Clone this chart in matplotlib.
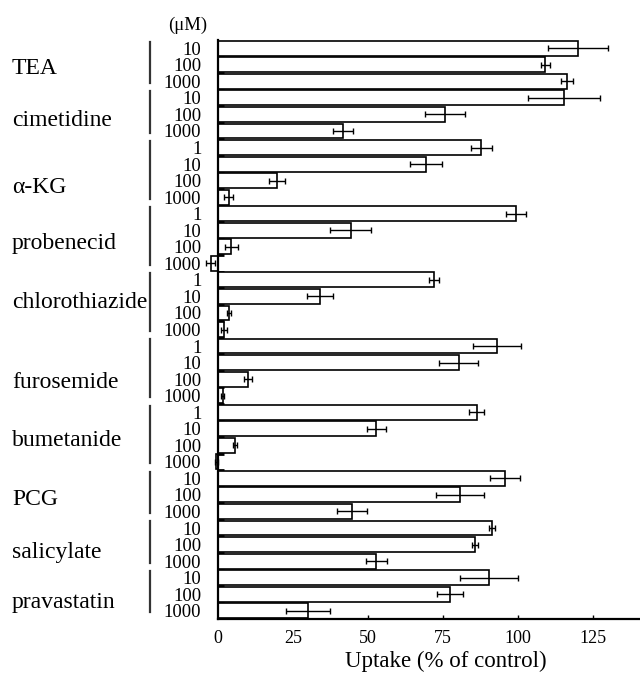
import matplotlib
matplotlib.use("Agg")
import matplotlib.pyplot as plt
import matplotlib.transforms as mtransforms
import numpy as np

plt.rcParams['font.family'] = ['Liberation Serif', 'DejaVu Serif']

drugs = ["TEA", "cimetidine", "α-KG", "probenecid", "chlorothiazide",
         "furosemide", "bumetanide", "PCG", "salicylate", "pravastatin"]

conc_TEA = ["10", "100", "1000"]
conc_cim = ["10", "100", "1000"]
conc_akg = ["1", "10", "100", "1000"]
conc_prob = ["1", "10", "100", "1000"]
conc_chloro = ["1", "10", "100", "1000"]
conc_furo = ["1", "10", "100", "1000"]
conc_bum = ["1", "10", "100", "1000"]
conc_pcg = ["10", "100", "1000"]
conc_sal = ["10", "100", "1000"]
conc_prav = ["10", "100", "1000"]

val_TEA = [120.0, 109.0, 116.4]
val_cim = [115.3, 75.6, 41.6]
val_akg = [87.8, 69.2, 19.7, 3.5]
val_prob = [99.2, 44.2, 4.4, -2.5]
val_chloro = [71.9, 34.0, 3.6, 2.1]
val_furo = [93.1, 80.2, 10.0, 1.5]
val_bum = [86.2, 52.8, 5.7, -0.6]
val_pcg = [95.6, 80.7, 44.6]
val_sal = [91.3, 85.7, 52.8]
val_prav = [90.4, 77.4, 29.9]

err_TEA = [10.0, 1.5, 2.0]
err_cim = [12.0, 6.7, 3.3]
err_akg = [3.5, 5.3, 2.7, 1.5]
err_prob = [3.3, 6.9, 2.1, 1.5]
err_chloro = [1.7, 4.2, 0.6, 1.0]
err_furo = [8.0, 6.6, 1.4, 0.5]
err_bum = [2.5, 3.3, 0.7, 0.5]
err_pcg = [4.9, 8.1, 5.0]
err_sal = [1.0, 1.1, 3.5]
err_prav = [9.7, 4.4, 7.3]

xticks = [0, 25, 50, 75, 100, 125]

# vertical offset (in bar units) of each drug name from its group centre
name_offsets = [0.25, 0.35, 0.9, 0.3, -0.15, 0.7, 0.2, 0.25, 0.5, 0.5]

concs = [conc_TEA, conc_cim, conc_akg, conc_prob, conc_chloro,
         conc_furo, conc_bum, conc_pcg, conc_sal, conc_prav]
vals = [val_TEA, val_cim, val_akg, val_prob, val_chloro,
        val_furo, val_bum, val_pcg, val_sal, val_prav]
errs = [err_TEA, err_cim, err_akg, err_prob, err_chloro,
        err_furo, err_bum, err_pcg, err_sal, err_prav]

all_conc = [c for g in concs for c in g]
all_val = [v for g in vals for v in g]
all_err = [e for g in errs for e in g]
n = len(all_val)
ypos = np.arange(n)

fig = plt.figure(figsize=(6.4, 6.77), dpi=100)
W, H = 640, 677
ax_left, ax_right = 218, 674
ax_top, ax_bottom = 40, 619
ax = fig.add_axes([ax_left / W, (H - ax_bottom) / H,
                   (ax_right - ax_left) / W, (ax_bottom - ax_top) / H])

ax.barh(ypos, all_val, height=0.9, color='white', edgecolor='black',
        linewidth=1.2, zorder=2, clip_on=False)
eb = ax.errorbar(all_val, ypos, xerr=all_err, fmt='none', ecolor='black',
                 elinewidth=1.0, capsize=2, capthick=1.0, zorder=3)
for art in eb.lines[1] + eb.lines[2]:
    art.set_clip_on(False)

ax.set_ylim(n - 0.5, -0.5)
ax.set_xlim(0, 152)

for s in ['top', 'right']:
    ax.spines[s].set_visible(False)
ax.spines['left'].set_linewidth(1.6)
ax.spines['bottom'].set_linewidth(1.6)
ax.spines['left'].set_zorder(4)

ax.set_yticks(ypos)
ax.set_yticklabels(all_conc, fontsize=13.5)
ax.tick_params(axis='y', which='major', length=0, pad=12)
ax.set_yticks(ypos[:-1] + 0.5, minor=True)
ax.tick_params(axis='y', which='minor', direction='in', length=4, width=2)

ax.set_xticks(xticks)
ax.set_xticklabels([str(t) for t in xticks], fontsize=13)
ax.tick_params(axis='x', direction='in', length=3, width=1, pad=8)
ax.set_xlabel("Uptake (% of control)", fontsize=16.5, labelpad=3)

# group brackets and drug labels
trans = mtransforms.blended_transform_factory(ax.transAxes, ax.transData)
bx = (150 - ax_left) / (ax_right - ax_left)
lx = (12 - ax_left) / (ax_right - ax_left)
start = 0
for name, g, off in zip(drugs, concs, name_offsets):
    first = start
    last = start + len(g) - 1
    ax.plot([bx, bx], [first - 0.4, last + 0.1], transform=trans,
            color='#333333', linewidth=1.6, clip_on=False)
    ax.text(lx, (first + last) / 2 + off, name, transform=trans,
            ha='left', va='center', fontsize=17)
    start = last + 1

ax.text((188 - ax_left) / (ax_right - ax_left), -1.4, "(μM)",
        transform=trans, ha='center', va='center', fontsize=13.5)

fig.savefig("out.png", dpi=100)
